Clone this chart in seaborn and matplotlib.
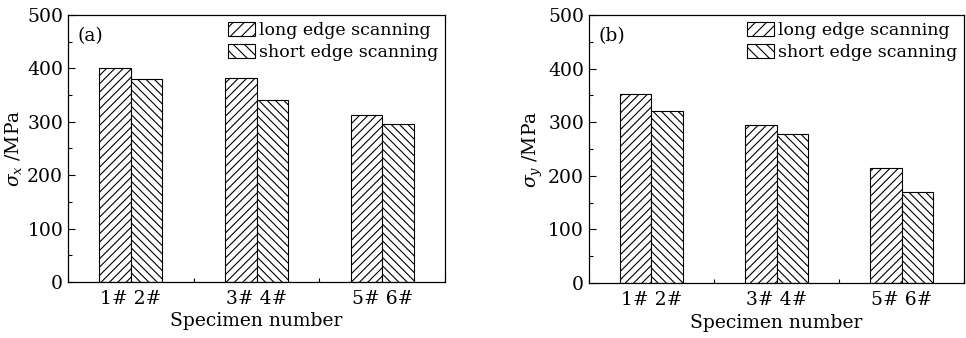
import matplotlib
matplotlib.use("Agg")
import matplotlib.pyplot as plt
import seaborn as sns
import pandas as pd
from matplotlib.patches import Patch
from matplotlib.ticker import MultipleLocator

specimens = ["1# 2#", "3# 4#", "5# 6#"]
modes = ["long edge scanning", "short edge scanning"]
sigma_x_long = [400, 382, 312]
sigma_x_short = [380, 341, 296]
sigma_y_long = [353, 294, 215]
sigma_y_short = [320, 278, 169]

sns.set_style("ticks")
plt.rcParams["font.family"] = ["DejaVu Serif"]
plt.rcParams["mathtext.fontset"] = "dejavuserif"
plt.rcParams["hatch.linewidth"] = 0.8
for k in ["text.color", "axes.labelcolor", "xtick.color", "ytick.color", "axes.edgecolor"]:
    plt.rcParams[k] = "black"

fig = plt.figure(figsize=(9.66, 3.38), dpi=100)
ax1 = fig.add_axes([0.0704, 0.1657, 0.3903, 0.79])
ax2 = fig.add_axes([0.6097, 0.1627, 0.3883, 0.7929])

def make_df(long_vals, short_vals):
    rows = []
    for s, v in zip(specimens, long_vals):
        rows.append({"specimen": s, "mode": modes[0], "value": v})
    for s, v in zip(specimens, short_vals):
        rows.append({"specimen": s, "mode": modes[1], "value": v})
    return pd.DataFrame(rows)

hatches = ["////", "\\\\\\\\"]

def draw(ax, df, ylabel, tag):
    sns.barplot(data=df, x="specimen", y="value", hue="mode", ax=ax,
                palette=["white", "white"], edgecolor="black", linewidth=0.8,
                width=0.5, gap=0, legend=False, saturation=1)
    for cont, h in zip(ax.containers, hatches):
        for p in cont:
            p.set_hatch(h)
    ax.set_ylim(0, 500)
    ax.set_xlim(-0.5, 2.5)
    ax.yaxis.set_major_locator(MultipleLocator(100))
    ax.yaxis.set_minor_locator(MultipleLocator(50))
    ax.xaxis.set_minor_locator(MultipleLocator(0.5))
    ax.tick_params(axis="both", which="both", direction="in", labelsize=13.5)
    ax.tick_params(axis="both", which="major", length=5, width=0.8)
    ax.tick_params(axis="both", which="minor", length=3, width=0.8)
    ax.tick_params(axis="x", which="major", pad=6)
    for sp in ax.spines.values():
        sp.set_visible(True)
        sp.set_linewidth(0.9)
    ax.set_xlabel("Specimen number", fontsize=13.5, labelpad=3)
    ax.set_ylabel(ylabel, fontsize=13.5, labelpad=2)
    ax.text(0.025, 0.955, tag, transform=ax.transAxes, fontsize=13.5,
            va="top", ha="left")
    handles = [Patch(facecolor="white", edgecolor="black", hatch=h, linewidth=0.8)
               for h in ["///", "\\\\\\"]]
    ax.legend(handles, modes, loc="upper right", frameon=False, fontsize=12.5,
              handlelength=1.6, handleheight=0.85, handletextpad=0.2,
              labelspacing=0.3, borderaxespad=0.1, borderpad=0.3)

draw(ax1, make_df(sigma_x_long, sigma_x_short), r"$\sigma_x$ /MPa", "(a)")
draw(ax2, make_df(sigma_y_long, sigma_y_short), r"$\sigma_y$ /MPa", "(b)")

fig.savefig("out.png", dpi=100)
